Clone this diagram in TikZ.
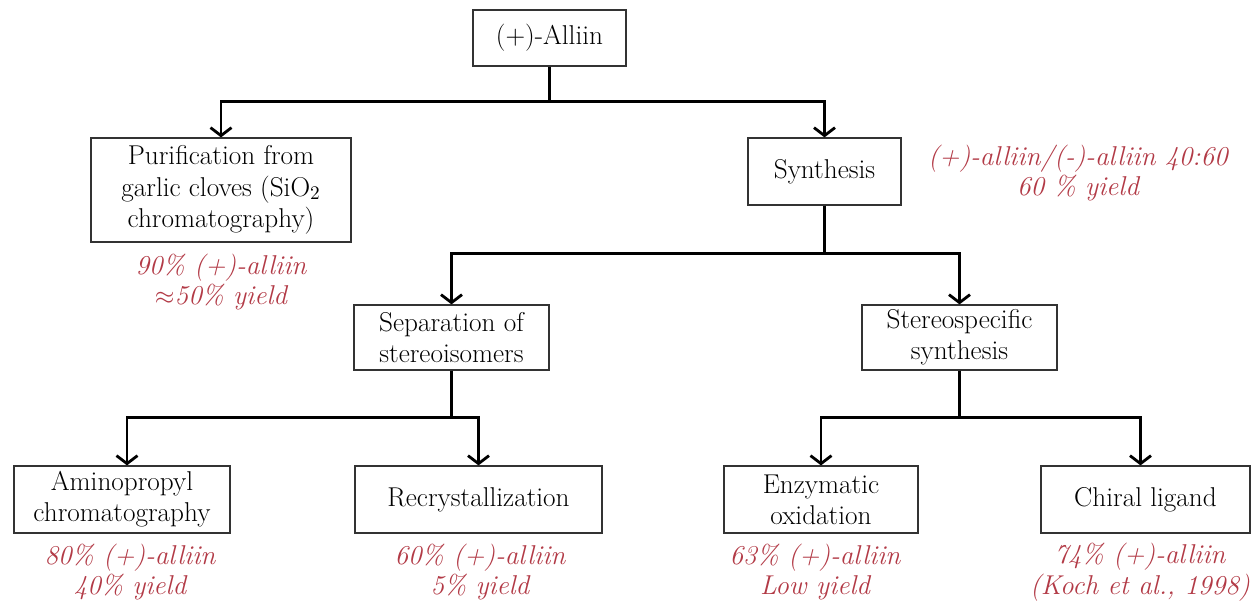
\documentclass[tikz,border=0pt]{standalone}
\usepackage{xcolor}
\usepackage{tikz}
\usetikzlibrary{
  arrows.meta,
  positioning
}
\definecolor{yieldred}{RGB}{178,58,70}
\tikzset{
  >={Straight Barb[length=1.6mm,width=4.2mm,line width=1.6pt]},
  box/.style={draw=black!80, line width=0.7pt, align=center, inner sep=1pt,
    font=\fontsize{15.5}{17.8}\selectfont},
  yield/.style={text=yieldred, align=center, inner sep=0pt,
    font=\fontsize{15.5}{17.4}\selectfont\itshape},
  link/.style={->, line width=1.6pt, line join=miter}
}

\begin{document}
\begin{tikzpicture}[x=0.02cm, y=-0.02cm]
    \useasboundingbox (0,0) rectangle (1255,603);
    % boxes
    \node[box, minimum width=3.06cm, minimum height=1.12cm] (alliin) at (549.5,38) {(+)-Alliin};
    \node[box, minimum width=5.2cm, minimum height=2.08cm] (purif) at (221,190) {Purification from\\garlic cloves (SiO$_2$\\chromatography)};
    \node[box, minimum width=3.06cm, minimum height=1.34cm] (synth) at (824.5,171.5) {Synthesis};
    \node[box, minimum width=3.9cm, minimum height=1.3cm] (sep) at (451.5,337.5) {Separation of\\stereoisomers};
    \node[box, minimum width=3.9cm, minimum height=1.3cm] (stereo) at (959.5,337.5) {Stereospecific\\synthesis};
    \node[box, minimum width=4.32cm, minimum height=1.34cm] (amino) at (122,499.5) {Aminopropyl\\chromatography};
    \node[box, minimum width=4.94cm, minimum height=1.34cm] (recr) at (478.5,499.5) {Recrystallization};
    \node[box, minimum width=3.88cm, minimum height=1.34cm] (enzym) at (821,499.5) {Enzymatic\\oxidation};
    \node[box, minimum width=4.18cm, minimum height=1.34cm] (chiral) at (1145.5,499.5) {Chiral ligand};

    % yields
    \node[yield] (ypurif) at (221,282) {90\% (+)-alliin\\$\approx$50\% yield};
    \node[yield] (ysynth) at (1078,173) {(+)-alliin/(-)-alliin 40:60\\60 \% yield};
    \node[yield] (yamino) at (130,572) {80\% (+)-alliin\\40\% yield};
    \node[yield] (yrecr) at (480,572) {60\% (+)-alliin\\5\% yield};
    \node[yield] (yenzym) at (815,572) {63\% (+)-alliin\\Low yield};
    \node[yield] (ychiral) at (1140,572) {74\% (+)-alliin\\(Koch et al., 1998)};

    % tree
    \draw[link] (alliin.south) -- ++(0,35) -| (purif);
    \draw[link] (alliin.south) -- ++(0,35) -| (synth);
    \draw[link] (synth.south) -- ++(0,48) -| (sep);
    \draw[link] (synth.south) -- ++(0,48) -| (stereo);
    \draw[link] (sep.south) -- ++(0,47) -| ([xshift=0.1cm]amino.north);
    \draw[link] (sep.south) -- ++(0,47) -| (recr);
    \draw[link] (stereo.south) -- ++(0,47) -| (enzym);
    \draw[link] (stereo.south) -- ++(0,47) -| ([xshift=-0.1cm]chiral.north);
\end{tikzpicture}
\end{document}
